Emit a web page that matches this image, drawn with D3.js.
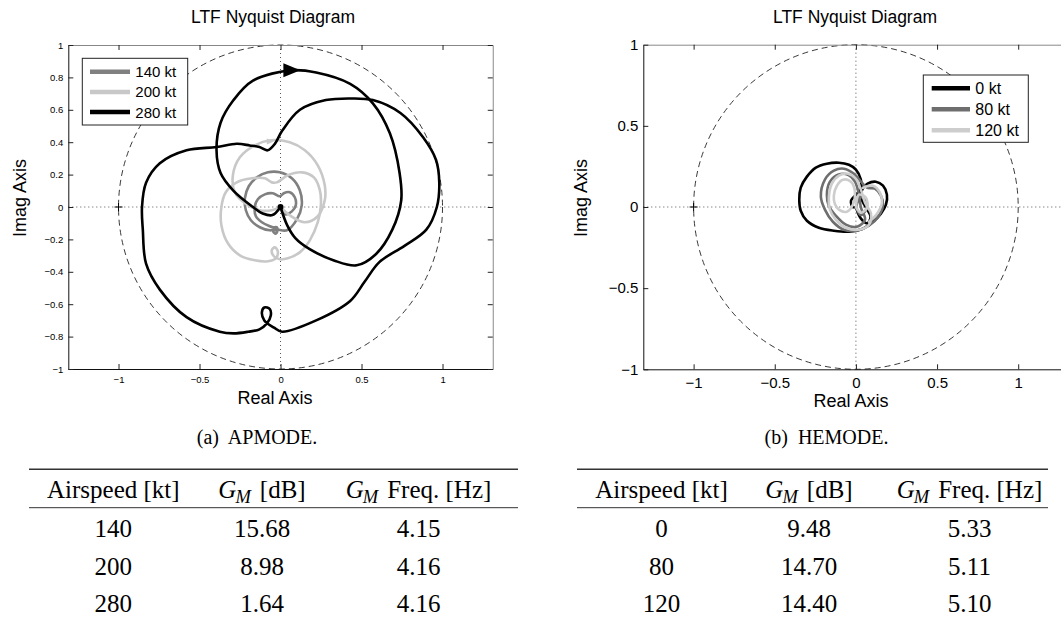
<!DOCTYPE html>
<html>
<head>
<meta charset="utf-8">
<script src="https://cdn.jsdelivr.net/npm/d3@7"></script>
<style>
body{margin:0;background:#fff;}
svg text{font-family:"Liberation Sans",Arial,Helvetica,sans-serif;fill:#000;}
svg .tbl text{font-family:"Liberation Serif","Times New Roman",serif;}
</style>
</head>
<body>
<svg id="fig" width="1061" height="622"></svg>
<script>
// ---------- data (real, imag) ----------
var apNames  = ["140 kt","200 kt","280 kt"];
var apColors = ["#808080","#c8c8c8","#000000"];

var ap140 = [
	[[-0.029,-0.138],[0.039,-0.144],[0.101,-0.076],[0.131,0.01],[0.119,0.103],[0.07,0.177],[-0.004,0.214],[-0.078,0.214],[-0.146,0.183],[-0.196,0.128],[-0.22,0.054],[-0.214,-0.02],[-0.183,-0.082],[-0.128,-0.125],[-0.066,-0.144],[-0.029,-0.138]],
	[[0,0],[0.027,-0.045],[0.07,-0.027],[0.094,0.01],[0.088,0.06],[0.057,0.091],[0.02,0.085],[-0.004,0.066],[-0.048,0.085],[-0.097,0.078],[-0.14,0.048],[-0.159,0],[-0.152,-0.057],[-0.115,-0.094],[-0.066,-0.119],[-0.035,-0.13],[-0.02,-0.15],[-0.03,-0.165],[-0.045,-0.15],[-0.03,-0.13]]
];
var ap200 = [
	[[0,0],[0.057,-0.051],[0.15,-0.094],[0.23,-0.057],[0.273,0.041],[0.273,0.134],[0.23,0.257],[0.15,0.35],[0.057,0.399],[-0.06,0.412],[-0.159,0.381],[-0.251,0.307],[-0.294,0.196],[-0.282,0.091],[-0.22,0.023],[-0.128,-0.02],[-0.054,-0.02],[0,0]],
	[[-0.023,0.152],[0.045,0.196],[0.131,0.214],[0.206,0.183],[0.243,0.103],[0.249,0.01],[0.23,-0.094],[0.181,-0.206],[0.119,-0.28],[0.045,-0.317],[-0.004,-0.323],[-0.041,-0.304],[-0.054,-0.267],[-0.035,-0.249],[-0.017,-0.273],[-0.029,-0.317],[-0.078,-0.335],[-0.159,-0.329],[-0.251,-0.298],[-0.325,-0.224],[-0.365,-0.113],[-0.365,0],[-0.338,0.091],[-0.27,0.152],[-0.177,0.177],[-0.097,0.177],[-0.054,0.152],[-0.023,0.152]]
];
var ap280 = [
	[[0,0],[0.04,-0.11],[0.09,-0.19],[0.18,-0.26],[0.33,-0.33],[0.47,-0.36],[0.59,-0.29],[0.69,-0.14],[0.745,0.04],[0.735,0.21],[0.675,0.455],[0.57,0.64],[0.43,0.76],[0.22,0.83],[0.07,0.844],[-0.17,0.78],[-0.29,0.66],[-0.37,0.52],[-0.395,0.35],[-0.37,0.21],[-0.29,0.10],[-0.17,0],[-0.11,-0.04],[-0.05,-0.05],[0,0]],
	[[0.98,0.15],[0.965,0],[0.90,-0.14],[0.765,-0.24],[0.61,-0.34],[0.52,-0.46],[0.43,-0.58],[0.22,-0.70],[0.01,-0.77],[-0.04,-0.745],[-0.10,-0.70],[-0.115,-0.65],[-0.10,-0.62],[-0.066,-0.63],[-0.06,-0.67],[-0.085,-0.72],[-0.13,-0.755],[-0.20,-0.77],[-0.29,-0.78],[-0.375,-0.77],[-0.58,-0.68],[-0.745,-0.51],[-0.83,-0.35],[-0.85,-0.14],[-0.855,0],[-0.83,0.15],[-0.745,0.27],[-0.58,0.35],[-0.395,0.37],[-0.27,0.39],[-0.19,0.38],[-0.13,0.37],[-0.08,0.35],[-0.035,0.39],[0.01,0.47],[0.12,0.60],[0.28,0.66],[0.43,0.67],[0.57,0.66],[0.74,0.58],[0.88,0.43],[0.96,0.29],[0.98,0.15]]
];
var apArrows = [[1,-0.063,0.405],[2,0.07,0.844]];   // series, re, im
var apDots   = [[2,0,0],[0,-0.03,-0.135]];

var heNames  = ["0 kt","80 kt","120 kt"];
var heColors = ["#000000","#6e6e6e","#cdcdcd"];

var he0 = [
	[[0,0],[0.03,-0.07],[0.07,-0.10],[0.09,-0.06],[0.06,0.0],[0.03,0.06],[0.04,0.11],[0.072,0.144],[0.123,0.156],[0.167,0.131],[0.191,0.076],[0.185,0.014],[0.154,-0.041],[0.105,-0.091],[0.043,-0.134],[-0.043,-0.152],[-0.136,-0.146],[-0.228,-0.128],[-0.302,-0.085],[-0.34,-0.023],[-0.349,0.045],[-0.34,0.119],[-0.302,0.187],[-0.247,0.243],[-0.179,0.267],[-0.105,0.273],[-0.043,0.26],[0,0.23],[0.03,0.17],[0.03,0.11],[0.0,0.075],[-0.03,0.04],[-0.02,0.0],[0,0]]
];
var he80 = [
	[[-0.216,0.064],[-0.191,0.169],[-0.136,0.224],[-0.074,0.236],[-0.012,0.205],[0.031,0.156],[0.068,0.119],[0.117,0.113],[0.154,0.07],[0.167,0.014],[0.142,-0.054],[0.08,-0.115],[0,-0.146],[-0.074,-0.14],[-0.142,-0.091],[-0.191,-0.016],[-0.216,0.064]],
	[[-0.179,0.076],[-0.16,0.156],[-0.111,0.199],[-0.049,0.199],[-0.006,0.156],[0.019,0.076],[0.031,-0.004],[0.056,-0.078],[0.006,-0.122],[-0.062,-0.109],[-0.123,-0.054],[-0.167,0.008],[-0.179,0.076]],
	[[0,0],[0.03,0.06],[0.06,0.05],[0.065,-0.01],[0.03,-0.05],[0,0]]
];
var he120 = [
	[[-0.167,0.057],[-0.148,0.144],[-0.105,0.193],[-0.049,0.205],[0,0.174],[0.031,0.106],[0.056,0.026],[0.093,-0.041],[0.08,-0.109],[0.019,-0.14],[-0.062,-0.128],[-0.123,-0.079],[-0.16,-0.016],[-0.167,0.057]],
	[[-0.136,0.07],[-0.117,0.131],[-0.08,0.168],[-0.031,0.156],[-0.006,0.094],[-0.019,0.014],[-0.056,-0.029],[-0.105,-0.016],[-0.13,0.02],[-0.136,0.07]],
	[[0.043,0.119],[0.105,0.131],[0.148,0.088],[0.16,0.026],[0.13,-0.041],[0.08,-0.091]],
	[[0,0],[0.019,0.076],[0.062,0.057],[0.068,-0.004],[0.031,-0.035],[0,0]]
];

var apYTicks = [-1,-0.8,-0.6,-0.4,-0.2,0,0.2,0.4,0.6,0.8,1];
var heYTicks = [-1,-0.5,0,0.5,1];
var xTicks   = [-1,-0.5,0,0.5,1];

var tblHead  = ["Airspeed [kt]","[dB]","Freq. [Hz]"];
var apSpeed = ["140","200","280"], apGm = ["15.68","8.98","1.64"], apFreq = ["4.15","4.16","4.16"];
var heSpeed = ["0","80","120"],    heGm = ["9.48","14.70","14.40"], heFreq = ["5.33","5.11","5.10"];

// ---------- drawing ----------
var svg = d3.select("#fig");

function fmt(v)
{
	var s = String(+v.toFixed(2));
	return s.replace("-", "\u2212");
}

function panel(o)
{
	var g = svg.append("g");
	var x = d3.scaleLinear().domain([-1.31,1.31]).range([o.left, o.left + 2.62*o.unit]);
	var y = d3.scaleLinear().domain([-1,1]).range([o.bottom, o.bottom - 2*o.unit]);
	var top = y(1), right = x(1.31);

	g.append("clipPath").attr("id", "clip"+o.id).append("rect")
		.attr("x", o.left).attr("y", top).attr("width", right-o.left).attr("height", o.bottom-top);

	// dotted zero lines
	g.append("line").attr("x1", x(0)).attr("x2", x(0)).attr("y1", top).attr("y2", o.bottom)
		.attr("stroke", "#555").attr("stroke-width", 1).attr("stroke-dasharray", "1,3");
	g.append("line").attr("x1", o.left).attr("x2", right).attr("y1", y(0)).attr("y2", y(0))
		.attr("stroke", "#555").attr("stroke-width", 1).attr("stroke-dasharray", "1,3");

	// unit circle + critical point
	g.append("circle").attr("cx", x(0)).attr("cy", y(0)).attr("r", x(1)-x(0))
		.attr("fill", "none").attr("stroke", "#222").attr("stroke-width", 0.9).attr("stroke-dasharray", "6,4");
	g.append("path").attr("d", "M"+(x(-1)-4)+","+y(0)+"h8M"+x(-1)+","+(y(0)-4)+"v8")
		.attr("stroke", "#000").attr("stroke-width", 1);

	var cg = g.append("g").attr("clip-path", "url(#clip"+o.id+")");
	o.series.forEach(function(ser, i)
	{
		ser.forEach(function(seg)
		{
			var n = seg.length;
			var closed = n > 3 && seg[0][0] === seg[n-1][0] && seg[0][1] === seg[n-1][1] && (seg[0][0] !== 0 || seg[0][1] !== 0);
			var line = d3.line().x(function(d){ return x(d[0]); }).y(function(d){ return y(d[1]); })
				.curve(closed ? d3.curveCatmullRomClosed.alpha(0.5) : d3.curveCatmullRom.alpha(0.5));
			cg.append("path").attr("d", line(closed ? seg.slice(0, -1) : seg))
				.attr("fill", "none").attr("stroke", o.colors[i]).attr("stroke-width", o.lw)
				.attr("stroke-linejoin", "round").attr("stroke-linecap", "round");
		});
	});
	(o.arrows || []).forEach(function(a)
	{
		var len = a[0] == 2 ? 17 : 7, h = a[0] == 2 ? 14 : 6;
		cg.append("path").attr("transform", "translate("+x(a[1])+","+y(a[2])+")")
			.attr("d", "M"+(-len/2)+","+(-h/2)+"L"+(len/2)+",0L"+(-len/2)+","+(h/2)+"Z")
			.attr("fill", o.colors[a[0]]);
	});
	(o.dots || []).forEach(function(a)
	{
		cg.append("circle").attr("cx", x(a[1])).attr("cy", y(a[2])).attr("r", 3).attr("fill", o.colors[a[0]]);
	});

	// axes with inward ticks on all sides
	var ax = [
		[d3.axisBottom(x).tickValues(xTicks).tickFormat(fmt).tickPadding(o.padX), "translate(0,"+o.bottom+")", "#111"],
		[d3.axisTop(x).tickValues(xTicks).tickFormat(""), "translate(0,"+top+")", "#888"],
		[d3.axisLeft(y).tickValues(o.yTicks).tickFormat(fmt).tickPadding(o.padY), "translate("+o.left+",0)", "#111"],
		[d3.axisRight(y).tickValues(o.yTicks).tickFormat(""), "translate("+right+",0)", "#888"]
	];
	ax.forEach(function(a)
	{
		var ag = g.append("g").attr("transform", a[1]).call(a[0].tickSizeInner(-5).tickSizeOuter(0));
		ag.select(".domain").attr("stroke", a[2]);
		ag.selectAll(".tick line").attr("stroke", "#222");
		ag.selectAll("text").attr("font-size", o.tickFont).attr("font-family", "Liberation Sans, Arial, sans-serif");
	});

	// titles
	g.append("text").attr("x", o.titleX).attr("y", 22.5).attr("text-anchor", "middle")
		.attr("font-size", 17.5).text("LTF Nyquist Diagram");
	g.append("text").attr("x", o.xlabX).attr("y", o.xlabY).attr("text-anchor", "middle")
		.attr("font-size", 18).text("Real Axis");
	g.append("text").attr("transform", "translate("+o.ylabX+",198) rotate(-90)").attr("text-anchor", "middle")
		.attr("font-size", 18).text("Imag Axis");

	// legend
	var L = o.legend;
	g.append("rect").attr("x", L.x).attr("y", L.y).attr("width", L.w).attr("height", L.h)
		.attr("fill", "#fff").attr("stroke", "#222").attr("stroke-width", 1);
	o.names.forEach(function(nm, i)
	{
		var yy = L.y + L.first + i*L.step;
		g.append("line").attr("x1", L.x + L.l0).attr("x2", L.x + L.l1).attr("y1", yy).attr("y2", yy)
			.attr("stroke", o.colors[i]).attr("stroke-width", 4.5);
		g.append("text").attr("x", L.x + L.tx).attr("y", yy).attr("dy", "0.36em")
			.attr("font-size", L.font).text(nm);
	});
}

panel({
	id: "a", left: 68.3, unit: 162, bottom: 369, series: [ap140, ap200, ap280], colors: apColors,
	names: apNames, yTicks: apYTicks, tickFont: 9.5, padX: 7, padY: 5, lw: 2.6,
	arrows: apArrows, dots: apDots,
	titleX: 273, xlabX: 275, xlabY: 403.5, ylabX: 26,
	legend: {x: 82.3, y: 58.3, w: 105.4, h: 66.7, first: 13.4, step: 20.2, l0: 7.7, l1: 47.7, tx: 53, font: 15}
});
panel({
	id: "b", left: 643.3, unit: 162.3, bottom: 369.3, series: [he0, he80, he120], colors: heColors,
	names: heNames, yTicks: heYTicks, tickFont: 15, padX: 8, padY: 5, lw: 2.6,
	titleX: 855, xlabX: 851, xlabY: 406.5, ylabX: 587,
	legend: {x: 923.3, y: 75, w: 105, h: 67.3, first: 13.3, step: 21, l0: 8.4, l1: 46.7, tx: 52, font: 16}
});

// ---------- tables ----------
function table(t)
{
	var g = svg.append("g").attr("class", "tbl");
	g.append("text").attr("x", t.capX).attr("y", 443.5).attr("text-anchor", "middle")
		.attr("font-size", 20).attr("xml:space", "preserve").text(t.caption);
	g.append("line").attr("x1", t.x0).attr("x2", t.x1).attr("y1", 469.3).attr("y2", 469.3)
		.attr("stroke", "#333").attr("stroke-width", 1.6);
	g.append("line").attr("x1", t.x0).attr("x2", t.x1).attr("y1", 507.7).attr("y2", 507.7)
		.attr("stroke", "#333").attr("stroke-width", 1);

	g.append("text").attr("x", t.cols[0]).attr("y", 497.5).attr("text-anchor", "middle")
		.attr("font-size", 25).text(tblHead[0]);
	[1, 2].forEach(function(c)
	{
		var tx = g.append("text").attr("x", t.cols[c]).attr("y", 497.5).attr("text-anchor", "middle")
			.attr("font-size", 25);
		tx.append("tspan").attr("font-style", "italic").text("G");
		tx.append("tspan").attr("font-style", "italic").attr("font-size", 18.5).attr("dx", -1).attr("dy", 5).text("M");
		tx.append("tspan").attr("dx", 9).attr("dy", -5).text(tblHead[c]);
	});
	var cols = [t.speed, t.gm, t.freq];
	cols.forEach(function(arr, c)
	{
		arr.forEach(function(v, r)
		{
			g.append("text").attr("x", t.cols[c]).attr("y", 537 + r*37.5).attr("text-anchor", "middle")
				.attr("font-size", 25).text(v);
		});
	});
}

table({caption: "(a)  APMODE.", capX: 257, x0: 29, x1: 518, cols: [113.3, 262, 418.5], speed: apSpeed, gm: apGm, freq: apFreq});
table({caption: "(b)  HEMODE.", capX: 826.5, x0: 577, x1: 1048, cols: [661.5, 809, 969.5], speed: heSpeed, gm: heGm, freq: heFreq});
</script>
</body>
</html>
